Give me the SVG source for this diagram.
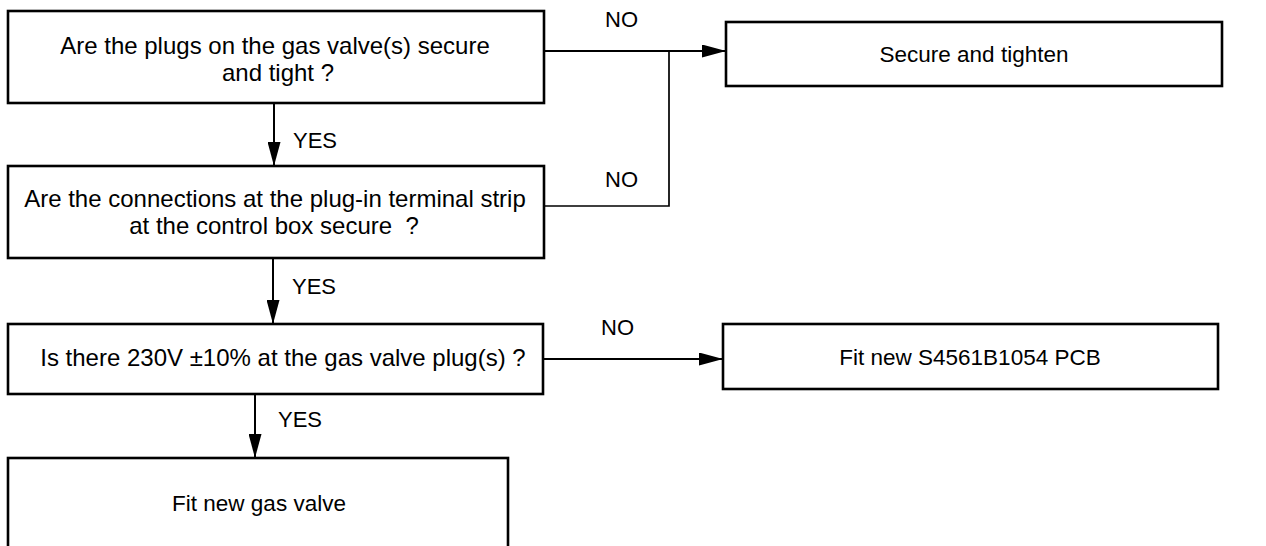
<svg xmlns="http://www.w3.org/2000/svg" width="1266" height="546" viewBox="0 0 1266 546">
<style>
.box{fill:#fff;stroke:#000;stroke-width:2.6}
.t{font-family:"Liberation Sans",Arial,sans-serif;font-size:24px;fill:#000;text-anchor:middle}
.s{font-size:22.5px}
.lbl{font-family:"Liberation Sans",Arial,sans-serif;font-size:22px;fill:#000}
.c{fill:none;stroke:#000;stroke-width:2}
</style>
<defs>
<marker id="ah" viewBox="0 0 24 13" refX="24" refY="6.5" markerWidth="24" markerHeight="13" markerUnits="userSpaceOnUse" orient="auto">
<path d="M0,0 L24,6.5 L0,13 Z" fill="#000"/>
</marker>
</defs>
<g id="connectors">
<line class="c" x1="274" y1="103" x2="274" y2="166" marker-end="url(#ah)"/>
<line class="c" x1="273" y1="258" x2="273" y2="324" marker-end="url(#ah)"/>
<line class="c" x1="255" y1="394" x2="255" y2="458" marker-end="url(#ah)"/>
<line class="c" x1="544" y1="51" x2="726" y2="51" marker-end="url(#ah)"/>
<polyline class="c" points="544,206 669,206 669,51" style="stroke-width:1.7"/>
<line class="c" x1="543" y1="359" x2="723" y2="359" marker-end="url(#ah)"/>
<text class="lbl" x="605" y="27">NO</text>
<text class="lbl" x="605" y="187">NO</text>
<text class="lbl" x="601" y="335">NO</text>
<text class="lbl" x="293" y="148">YES</text>
<text class="lbl" x="292" y="294">YES</text>
<text class="lbl" x="278" y="427">YES</text>
</g>
<g id="q1">
<rect class="box" x="8" y="11" width="536" height="92"/>
<text class="t" x="275" y="54">Are the plugs on the gas valve(s) secure</text>
<text class="t" x="278" y="81">and tight ?</text>
</g>
<g id="q2">
<rect class="box" x="8" y="166" width="536" height="92"/>
<text class="t" x="275" y="207">Are the connections at the plug-in terminal strip</text>
<text class="t" x="274" y="234" xml:space="preserve">at the control box secure  ?</text>
</g>
<g id="q3">
<rect class="box" x="8" y="324" width="535" height="70"/>
<text class="t" x="283" y="366">Is there 230V ±10% at the gas valve plug(s) ?</text>
</g>
<g id="a1">
<rect class="box" x="726" y="22" width="496" height="64"/>
<text class="t s" x="974" y="62">Secure and tighten</text>
</g>
<g id="a2">
<rect class="box" x="723" y="324" width="495" height="65"/>
<text class="t s" x="970" y="365">Fit new S4561B1054 PCB</text>
</g>
<g id="a3">
<rect class="box" x="8" y="458" width="500" height="110"/>
<text class="t s" x="259" y="511">Fit new gas valve</text>
</g>
</svg>
